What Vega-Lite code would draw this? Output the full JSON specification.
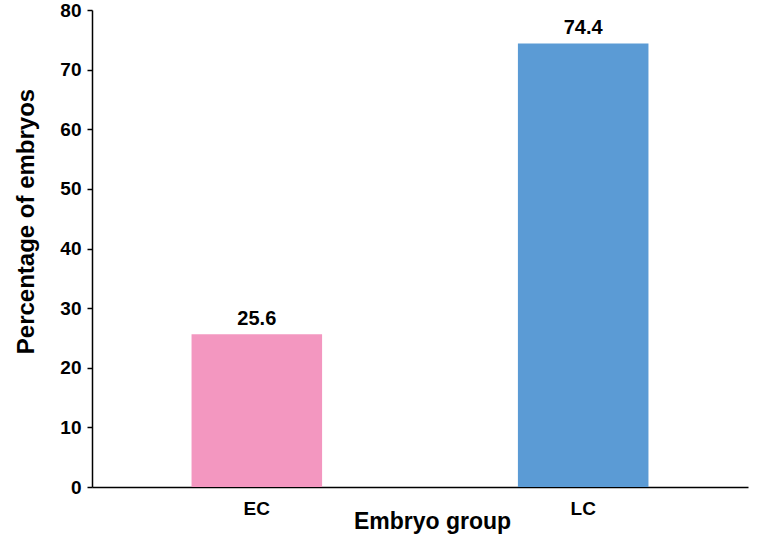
{
  "$schema": "https://vega.github.io/schema/vega-lite/v6.json",
  "autosize": "none",
  "width": 656,
  "height": 477,
  "padding": {"left": 92, "top": 10, "right": 23, "bottom": 51},
  "background": "white",
  "config": {
    "view": {"stroke": null},
    "font": "Liberation Sans"
  },
  "data": {
    "values": [
      {"group": "EC", "pct": 25.6},
      {"group": "LC", "pct": 74.4}
    ]
  },
  "encoding": {
    "x": {
      "field": "group",
      "type": "nominal",
      "sort": ["EC", "LC"],
      "scale": {"paddingInner": 0.6, "paddingOuter": 0.305},
      "axis": {
        "title": "Embryo group",
        "labelAngle": 0,
        "ticks": false,
        "labelPadding": 12,
        "labelFont": "Liberation Sans",
        "labelFontSize": 19,
        "labelFontWeight": "bold",
        "labelColor": "black",
        "titleFont": "Liberation Sans",
        "titleFontSize": 23,
        "titleFontWeight": "bold",
        "titleColor": "black",
        "titleBaseline": "alphabetic",
        "titleX": 340,
        "titleY": 41,
        "domainColor": "black",
        "domainWidth": 1.5
      }
    },
    "y": {
      "field": "pct",
      "type": "quantitative",
      "scale": {"domain": [0, 80]},
      "axis": {
        "title": "Percentage of embryos",
        "values": [0, 10, 20, 30, 40, 50, 60, 70, 80],
        "grid": false,
        "tickSize": 5,
        "tickColor": "black",
        "tickWidth": 1.5,
        "labelPadding": 6,
        "labelFont": "Liberation Sans",
        "labelFontSize": 19,
        "labelFontWeight": "bold",
        "labelColor": "black",
        "titleFont": "Liberation Sans",
        "titleFontSize": 24,
        "titleFontWeight": "bold",
        "titleColor": "black",
        "titleBaseline": "alphabetic",
        "titleAngle": 270,
        "titleX": -59,
        "titleY": 211,
        "domainColor": "black",
        "domainWidth": 1.5
      }
    }
  },
  "layer": [
    {
      "mark": {"type": "bar"},
      "encoding": {
        "color": {
          "field": "group",
          "type": "nominal",
          "scale": {"domain": ["EC", "LC"], "range": ["#F397C0", "#5B9BD5"]},
          "legend": null
        }
      }
    },
    {
      "mark": {
        "type": "text",
        "baseline": "bottom",
        "dy": -5,
        "font": "Liberation Sans",
        "fontSize": 20,
        "fontWeight": "bold",
        "color": "black"
      },
      "encoding": {
        "text": {"field": "pct", "type": "quantitative", "format": ".1f"}
      }
    }
  ]
}
